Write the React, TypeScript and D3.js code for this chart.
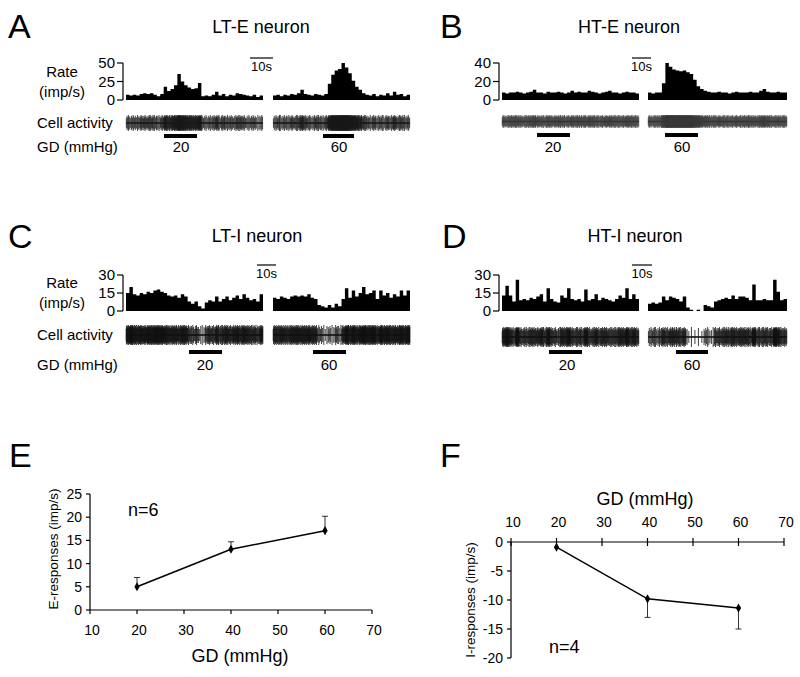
import React from "react";
import * as d3 from "d3";

// ---------- Data ----------
// Peri-stimulus rate histograms, 40 bins per 60 s segment (imp/s)
const ltE20 = [7, 6, 7, 6, 8, 9, 8, 9, 7, 5, 8, 18, 12, 15, 20, 35, 25, 20, 17, 15, 16, 23, 5, 6, 5, 7, 11, 6, 8, 5, 7, 6, 9, 8, 7, 6, 5, 7, 4, 6];
const ltE60 = [6, 7, 5, 7, 6, 8, 7, 9, 14, 8, 7, 6, 8, 7, 6, 8, 22, 34, 40, 42, 50, 44, 36, 26, 18, 14, 9, 7, 6, 8, 5, 7, 6, 9, 6, 11, 7, 8, 5, 7];
const htE20 = [8, 7, 8, 8, 9, 8, 7, 8, 9, 11, 8, 8, 7, 9, 8, 8, 9, 8, 7, 8, 10, 8, 9, 8, 8, 10, 9, 8, 7, 8, 9, 10, 8, 8, 7, 8, 9, 8, 8, 7];
const htE60 = [8, 7, 8, 8, 18, 40, 36, 33, 32, 31, 32, 30, 28, 22, 15, 12, 10, 9, 8, 8, 9, 8, 8, 7, 8, 9, 8, 8, 8, 9, 8, 8, 10, 12, 9, 8, 8, 9, 8, 8];
const ltI20 = [15, 20, 14, 13, 15, 14, 16, 15, 17, 18, 16, 15, 13, 12, 13, 11, 14, 12, 8, 6, 8, 4, 2, 7, 9, 8, 12, 8, 10, 12, 9, 11, 13, 10, 14, 11, 9, 10, 8, 14];
const ltI60 = [11, 10, 12, 11, 10, 12, 13, 12, 13, 12, 14, 11, 10, 5, 4, 3, 5, 3, 6, 4, 10, 19, 11, 17, 12, 15, 20, 14, 15, 17, 10, 17, 13, 15, 11, 14, 12, 17, 13, 17];
const htI20 = [13, 21, 13, 8, 26, 9, 10, 9, 11, 10, 12, 14, 8, 19, 10, 8, 7, 13, 11, 19, 10, 9, 10, 8, 18, 9, 10, 14, 9, 11, 10, 9, 8, 10, 13, 11, 19, 10, 14, 10];
const htI60 = [6, 7, 6, 7, 12, 9, 12, 11, 10, 8, 12, 3, 1, 0, 1, 0, 5, 4, 3, 8, 9, 10, 11, 10, 13, 10, 12, 12, 11, 9, 22, 9, 9, 10, 9, 9, 26, 16, 9, 10];

const stimLabels = ["20", "60"];
const ltETicks = [0, 25, 50];
const htETicks = [0, 20, 40];
const iTicksHist = [0, 15, 30];

// Summary (E and F)
const gdLevels = [20, 40, 60];
const eMean = [5.0, 13.1, 17.1];
const eErr = [2.0, 1.6, 3.1];
const iMean = [-0.9, -9.8, -11.4];
const iErr = [0, 3.2, 3.6];
const gdTicks = [10, 20, 30, 40, 50, 60, 70];
const eTicks = [0, 5, 10, 15, 20, 25];
const iTicks = [0, -5, -10, -15, -20];

const FONT = "'Liberation Sans', Arial, Helvetica, sans-serif";

type Seg = { values: number[]; x0: number; x1: number; stim: [number, number]; label: string; labelX: number };

function Hist({ values, x0, x1, base, top, max }: { values: number[]; x0: number; x1: number; base: number; top: number; max: number }) {
  const x = d3.scaleLinear().domain([0, values.length]).range([x0, x1]);
  const y = d3.scaleLinear().domain([0, max]).range([base, top]);
  const pts: [number, number][] = values.map((v, i) => [i, v] as [number, number]);
  pts.push([values.length, values[values.length - 1]]);
  const area = d3
    .area<[number, number]>()
    .x((d) => x(d[0]))
    .y0(base)
    .y1((d) => y(d[1]))
    .curve(d3.curveStepAfter);
  return <path d={area(pts) || ""} fill="#000" />;
}

function Trace({ values, x0, x1, y0, y1, density, color }: { values: number[]; x0: number; x1: number; y0: number; y1: number; density: number; color: string }) {
  const x = d3.scaleLinear().domain([0, values.length]).range([x0, x1]);
  const mid = (y0 + y1) / 2;
  const half = (y1 - y0) / 2;
  const lines: JSX.Element[] = [];
  values.forEach((v, i) => {
    const k = Math.max(1, Math.round(v * density));
    for (let j = 0; j < k; j++) {
      const xx = x(i + (j + 0.5) / k);
      const f = 0.6 + 0.4 * (((i * 7 + j * 3) % 5) / 4);
      const h = half * f;
      lines.push(<line key={i + "-" + j} x1={xx} x2={xx} y1={mid - h} y2={mid + h} stroke={color} strokeWidth={0.8} />);
    }
  });
  return (
    <g>
      <line x1={x0} x2={x1} y1={mid} y2={mid} stroke="#000" strokeWidth={1.3} />
      {lines}
    </g>
  );
}

function HistAxis({ x, base, top, ticks, max }: { x: number; base: number; top: number; ticks: number[]; max: number }) {
  const y = d3.scaleLinear().domain([0, max]).range([base, top]);
  return (
    <g>
      <line x1={x} x2={x} y1={y(0)} y2={y(max)} stroke="#000" strokeWidth={1.2} />
      {ticks.map((t) => (
        <g key={t}>
          <line x1={x - 6} x2={x} y1={y(t)} y2={y(t)} stroke="#000" strokeWidth={1.2} />
          <text x={x - 8} y={y(t) + 5} textAnchor="end" fontSize={15} fontFamily={FONT}>
            {t}
          </text>
        </g>
      ))}
    </g>
  );
}

function NeuronPanel({
  letter, letterX, letterY, title, titleX, titleY, axisX, base, top, max, ticks, segs, traceY, density, traceColor,
  scaleBar, rateLabels, stimY, stimTextY,
}: {
  letter: string; letterX: number; letterY: number; title: string; titleX: number; titleY: number;
  axisX: number; base: number; top: number; max: number; ticks: number[]; segs: Seg[]; traceY: [number, number];
  density: number; traceColor: string; scaleBar: { x0: number; x1: number; y: number }; rateLabels: boolean; stimY: number; stimTextY: number;
}) {
  return (
    <g>
      <text x={letterX} y={letterY} fontSize={34} fontFamily={FONT}>{letter}</text>
      <text x={titleX} y={titleY} fontSize={18} textAnchor="middle" fontFamily={FONT}>{title}</text>
      {rateLabels && (
        <g fontFamily={FONT} fontSize={15}>
          <text x={62} y={base - 23} textAnchor="middle">Rate</text>
          <text x={62} y={base - 3} textAnchor="middle">(imp/s)</text>
          <text x={37} y={(traceY[0] + traceY[1]) / 2 + 5}>Cell activity</text>
          <text x={37} y={stimTextY}>GD (mmHg)</text>
        </g>
      )}
      <HistAxis x={axisX} base={base} top={top} ticks={ticks} max={max} />
      <line x1={scaleBar.x0} x2={scaleBar.x1} y1={scaleBar.y} y2={scaleBar.y} stroke="#000" strokeWidth={1.2} />
      <text x={(scaleBar.x0 + scaleBar.x1) / 2} y={scaleBar.y + 13} fontSize={13} textAnchor="middle" fontFamily={FONT}>10s</text>
      {segs.map((s, i) => (
        <g key={i}>
          <Hist values={s.values} x0={s.x0} x1={s.x1} base={base} top={top} max={max} />
          <Trace values={s.values} x0={s.x0} x1={s.x1} y0={traceY[0]} y1={traceY[1]} density={density} color={traceColor} />
          <rect x={s.stim[0]} y={stimY - 2} width={s.stim[1] - s.stim[0]} height={4} fill="#000" />
          <text x={s.labelX} y={stimTextY} fontSize={15} textAnchor="middle" fontFamily={FONT}>{s.label}</text>
        </g>
      ))}
    </g>
  );
}

function EPlot() {
  const x = d3.scaleLinear().domain([10, 70]).range([90, 372]);
  const y = d3.scaleLinear().domain([0, 25]).range([610, 494]);
  const line = d3.line<number>().x((_, i) => x(gdLevels[i])).y((d) => y(d));
  return (
    <g fontFamily={FONT}>
      <text x={9} y={467} fontSize={34}>E</text>
      <line x1={x(10)} x2={x(10)} y1={y(0)} y2={y(25)} stroke="#000" strokeWidth={1.2} />
      <line x1={x(10)} x2={x(70)} y1={y(0)} y2={y(0)} stroke="#000" strokeWidth={1.2} />
      {eTicks.map((t) => (
        <g key={t}>
          <line x1={x(10) - 4} x2={x(10)} y1={y(t)} y2={y(t)} stroke="#000" strokeWidth={1.2} />
          <text x={x(10) - 8} y={y(t) + 5} fontSize={14} textAnchor="end">{t}</text>
        </g>
      ))}
      {gdTicks.map((t) => (
        <g key={t}>
          <line x1={x(t)} x2={x(t)} y1={y(0)} y2={y(0) + 4} stroke="#000" strokeWidth={1.2} />
          <text x={x(t) + 2} y={y(0) + 25} fontSize={14} textAnchor="middle">{t}</text>
        </g>
      ))}
      <text x={240} y={662} fontSize={18} textAnchor="middle">GD (mmHg)</text>
      <text transform={`translate(58,${(y(0) + y(25)) / 2 - 3}) rotate(-90)`} fontSize={13.5} textAnchor="middle">E-responses (imp/s)</text>
      <text x={128} y={516} fontSize={18}>n=6</text>
      {eMean.map((m, i) => (
        <g key={i}>
          <line x1={x(gdLevels[i])} x2={x(gdLevels[i])} y1={y(m)} y2={y(m + eErr[i])} stroke="#000" strokeWidth={0.8} />
          <line x1={x(gdLevels[i]) - 3} x2={x(gdLevels[i]) + 3} y1={y(m + eErr[i])} y2={y(m + eErr[i])} stroke="#000" strokeWidth={0.8} />
        </g>
      ))}
      <path d={line(eMean) || ""} fill="none" stroke="#000" strokeWidth={1.5} />
      {eMean.map((m, i) => (
        <path key={i} d={d3.symbol(d3.symbolDiamond, 24)() || ""} transform={`translate(${x(gdLevels[i])},${y(m)})`} fill="#000" />
      ))}
    </g>
  );
}

function FPlot() {
  const x = d3.scaleLinear().domain([10, 70]).range([511, 784]);
  const y = d3.scaleLinear().domain([0, -20]).range([542, 658]);
  const line = d3.line<number>().x((_, i) => x(gdLevels[i])).y((d) => y(d));
  const midY = (y(0) + y(-20)) / 2;
  return (
    <g fontFamily={FONT}>
      <text x={440} y={467} fontSize={34}>F</text>
      <line x1={x(10)} x2={x(10)} y1={y(0)} y2={y(-20)} stroke="#000" strokeWidth={1.2} />
      <line x1={x(10)} x2={x(70)} y1={y(0)} y2={y(0)} stroke="#000" strokeWidth={1.2} />
      {iTicks.map((t) => (
        <g key={t}>
          <line x1={x(10) - 4} x2={x(10)} y1={y(t)} y2={y(t)} stroke="#000" strokeWidth={1.2} />
          <text x={x(10) - 8} y={y(t) + 5} fontSize={14} textAnchor="end">{t}</text>
        </g>
      ))}
      {gdTicks.map((t) => (
        <g key={t}>
          <line x1={x(t)} x2={x(t)} y1={y(0) - 4} y2={y(0) + 4} stroke="#000" strokeWidth={1.2} />
          <text x={x(t) + 2} y={y(0) - 15} fontSize={14} textAnchor="middle">{t}</text>
        </g>
      ))}
      <text x={645} y={505} fontSize={18} textAnchor="middle">GD (mmHg)</text>
      <text transform={`translate(475,${midY}) rotate(-90)`} fontSize={13.5} textAnchor="middle">I-responses (imp/s)</text>
      <text x={549} y={653} fontSize={18}>n=4</text>
      {iMean.map((m, i) =>
        iErr[i] > 0 ? (
          <g key={i}>
            <line x1={x(gdLevels[i])} x2={x(gdLevels[i])} y1={y(m)} y2={y(m - iErr[i])} stroke="#000" strokeWidth={0.8} />
            <line x1={x(gdLevels[i]) - 3} x2={x(gdLevels[i]) + 3} y1={y(m - iErr[i])} y2={y(m - iErr[i])} stroke="#000" strokeWidth={0.8} />
          </g>
        ) : null
      )}
      <path d={line(iMean) || ""} fill="none" stroke="#000" strokeWidth={1.5} />
      {iMean.map((m, i) => (
        <path key={i} d={d3.symbol(d3.symbolDiamond, 24)() || ""} transform={`translate(${x(gdLevels[i])},${y(m)})`} fill="#000" />
      ))}
    </g>
  );
}

export default function App() {
  return (
    <svg width={800} height={677} style={{ position: "absolute", left: 0, top: 0, background: "#fff" }}>
      <rect width={800} height={677} fill="#fff" />
      <NeuronPanel
        letter="A" letterX={8} letterY={38} title="LT-E neuron" titleX={261} titleY={33}
        axisX={123} base={100} top={63} max={50} ticks={ltETicks}
        segs={[
          { values: ltE20, x0: 126, x1: 263, stim: [164, 197], label: stimLabels[0], labelX: 181 },
          { values: ltE60, x0: 273, x1: 410, stim: [323, 354], label: stimLabels[1], labelX: 339 },
        ]}
        traceY={[115, 131]} density={0.7} traceColor="#1a1a1a"
        scaleBar={{ x0: 250, x1: 273, y: 58 }} rateLabels={true} stimY={136} stimTextY={152}
      />
      <NeuronPanel
        letter="B" letterX={440} letterY={38} title="HT-E neuron" titleX={629} titleY={33}
        axisX={499} base={100} top={63} max={40} ticks={htETicks}
        segs={[
          { values: htE20, x0: 502, x1: 639, stim: [537, 570], label: stimLabels[0], labelX: 553 },
          { values: htE60, x0: 648, x1: 787, stim: [665, 698], label: stimLabels[1], labelX: 682 },
        ]}
        traceY={[115, 128]} density={0.9} traceColor="#3a3a3a"
        scaleBar={{ x0: 632, x1: 651, y: 58 }} rateLabels={false} stimY={135} stimTextY={152}
      />
      <NeuronPanel
        letter="C" letterX={8} letterY={248} title="LT-I neuron" titleX={257} titleY={242}
        axisX={123} base={311} top={275} max={30} ticks={iTicksHist}
        segs={[
          { values: ltI20, x0: 126, x1: 263, stim: [189, 222], label: stimLabels[0], labelX: 205 },
          { values: ltI60, x0: 273, x1: 410, stim: [313, 346], label: stimLabels[1], labelX: 329 },
        ]}
        traceY={[325, 345]} density={0.8} traceColor="#111"
        scaleBar={{ x0: 257, x1: 276, y: 265 }} rateLabels={true} stimY={352} stimTextY={370}
      />
      <NeuronPanel
        letter="D" letterX={442} letterY={248} title="HT-I neuron" titleX={635} titleY={242}
        axisX={499} base={311} top={275} max={30} ticks={iTicksHist}
        segs={[
          { values: htI20, x0: 502, x1: 639, stim: [549, 582], label: stimLabels[0], labelX: 567 },
          { values: htI60, x0: 648, x1: 787, stim: [676, 708], label: stimLabels[1], labelX: 692 },
        ]}
        traceY={[327, 347]} density={0.7} traceColor="#111"
        scaleBar={{ x0: 632, x1: 652, y: 265 }} rateLabels={false} stimY={352} stimTextY={370}
      />
      <EPlot />
      <FPlot />
    </svg>
  );
}
